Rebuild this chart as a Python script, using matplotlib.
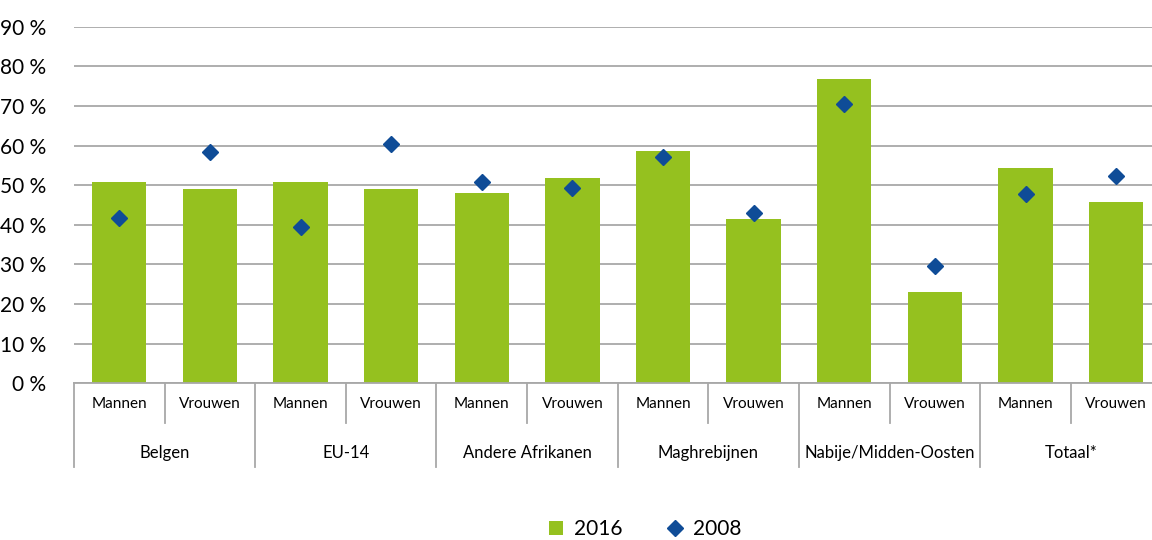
import matplotlib.pyplot as plt
from matplotlib.lines import Line2D
from matplotlib.patches import Patch

plt.rcParams['font.family'] = ['Lato', 'DejaVu Sans']

# data
groups = ["Belgen", "EU-14", "Andere Afrikanen", "Maghrebijnen", "Nabije/Midden-Oosten", "Totaal*"]
sexes = ["Mannen", "Vrouwen"]
vals_2016 = [50.8, 49.0, 50.8, 49.0, 48.0, 51.8, 58.6, 41.5, 76.8, 23.0, 54.3, 45.8]
vals_2008 = [41.7, 58.3, 39.4, 60.5, 50.9, 49.2, 57.2, 43.0, 70.6, 29.5, 47.8, 52.2]
yticks = [0, 10, 20, 30, 40, 50, 60, 70, 80, 90]

green = "#95c11f"
blue = "#0f4c97"
grid_col = "#a8a8a8"

fig = plt.figure(figsize=(11.52, 5.4), dpi=100)
ax = fig.add_axes([0.0642, 0.2902, 0.944, 0.6604])

x = list(range(len(vals_2016)))
ax.bar(x, vals_2016, width=0.6, color=green, zorder=2)
ax.plot(x, vals_2008, linestyle="none", marker="D", markersize=7.8, color=blue, zorder=3)

ax.set_xlim(-0.5, len(x) - 0.5)
ax.set_ylim(0, 90)
ax.set_yticks(yticks)
ax.set_yticklabels([f"{v} %" for v in yticks], fontsize=15)
ax.tick_params(axis="y", length=0, pad=20)
ax.set_xticks([])
ax.yaxis.grid(True, color=grid_col, linewidth=1.3, zorder=0)
for s in ["top", "right", "left"]:
    ax.spines[s].set_visible(False)
ax.spines["bottom"].set_color(grid_col)
ax.spines["bottom"].set_linewidth(1.3)

# category axis labels
tr = ax.get_xaxis_transform()
for i in x:
    ax.text(i, -0.058, sexes[i % 2], transform=tr, ha="center", va="center", fontsize=11)
for g, name in enumerate(groups):
    ax.text(2 * g + 0.5, -0.195, name, transform=tr, ha="center", va="center", fontsize=12)
    ax.add_line(Line2D([2 * g - 0.5] * 2, [0, -0.234], transform=tr, color=grid_col,
                       linewidth=1.3, clip_on=False))
    ax.add_line(Line2D([2 * g + 0.5] * 2, [0, -0.111], transform=tr, color=grid_col,
                       linewidth=1.3, clip_on=False))

handles = [Patch(facecolor=green, label="2016"),
           Line2D([], [], linestyle="none", marker="D", markersize=8.5, color=blue, label="2008")]
fig.legend(handles=handles, loc="center", bbox_to_anchor=(0.56, 0.02), ncol=2,
           frameon=False, fontsize=15, handlelength=0.7, handleheight=0.7,
           handletextpad=0.5, columnspacing=2.2)

fig.savefig("out.png", dpi=100)
